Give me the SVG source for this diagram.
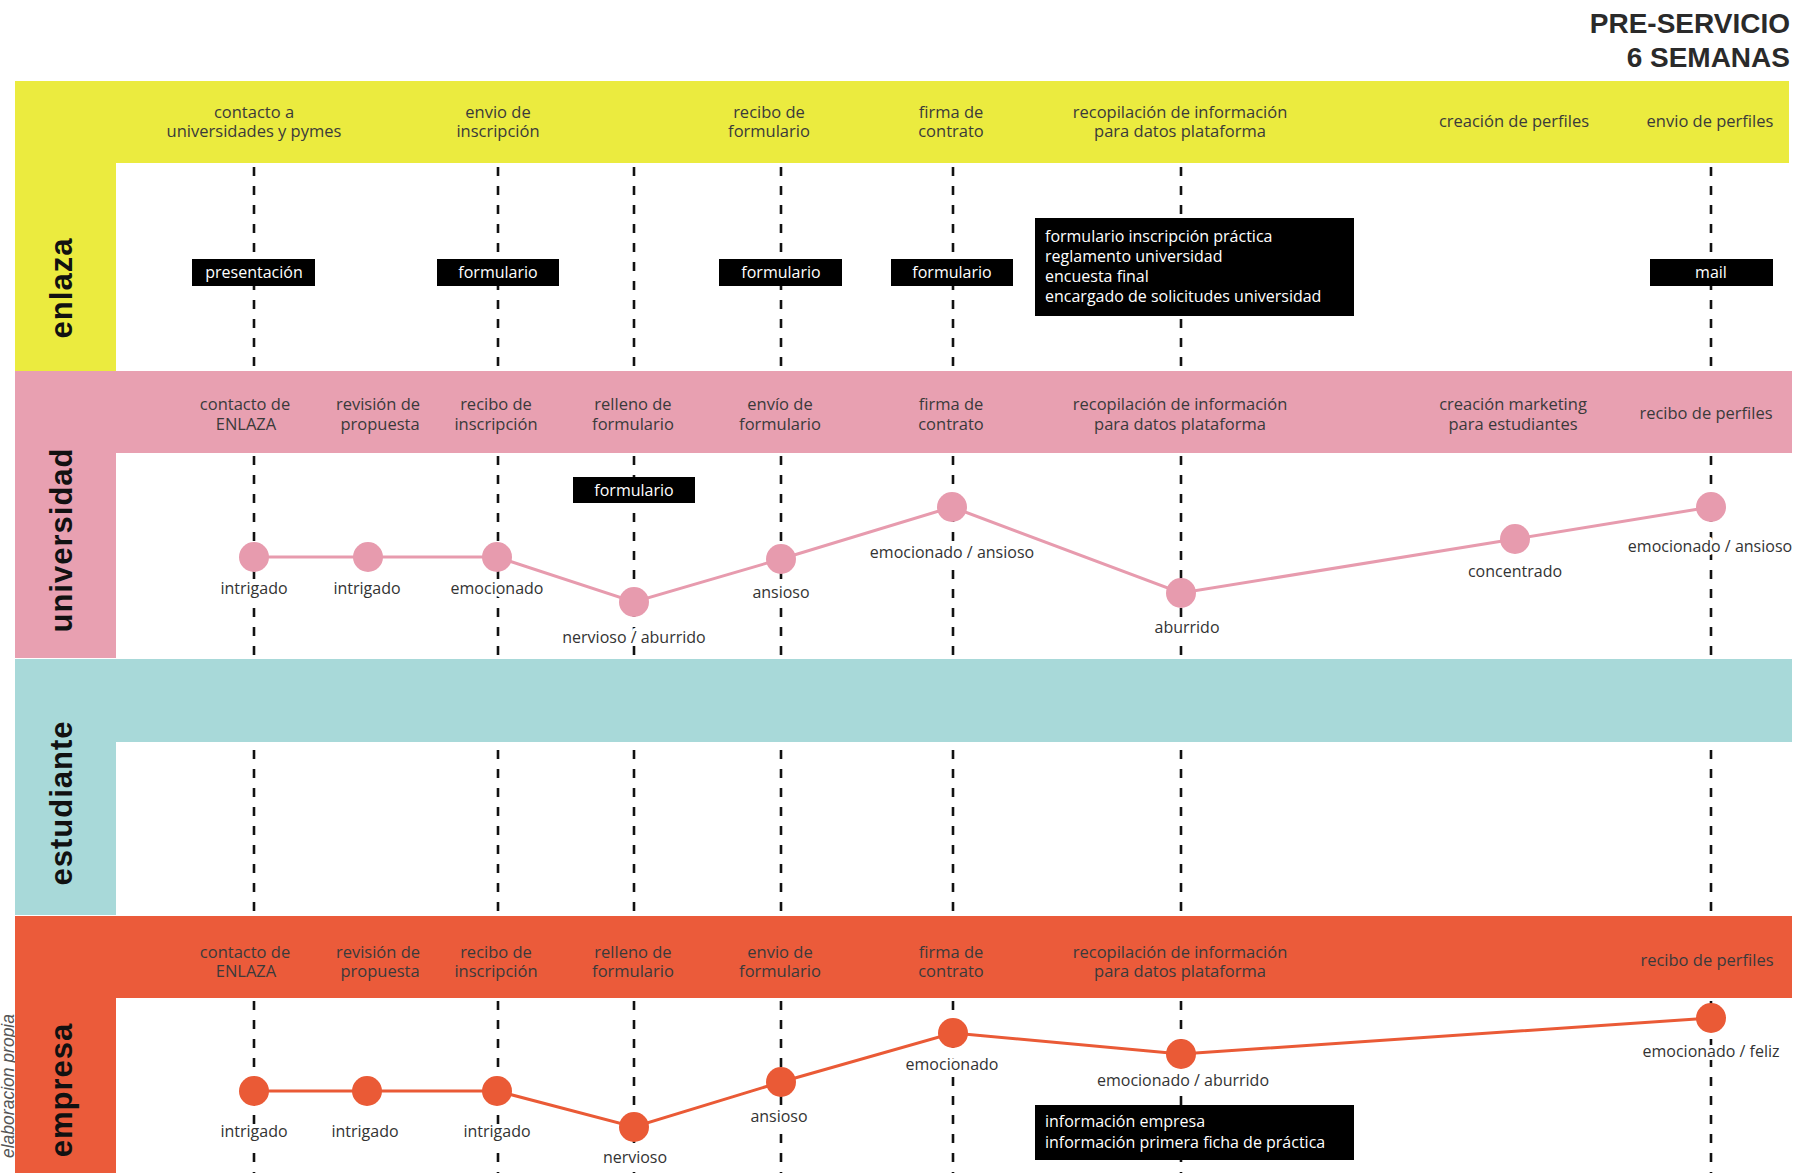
<svg xmlns="http://www.w3.org/2000/svg" width="1814" height="1173" viewBox="0 0 1814 1173">
<defs>
<style>
.lane{font-family:"Liberation Sans",Arial,sans-serif;font-weight:bold;font-size:31px;fill:#111;letter-spacing:1px}
.hd{font-family:"Open Sans","Liberation Sans",sans-serif;font-size:16.5px;fill:#3a3a3a;text-anchor:middle}
.mood{font-family:"Open Sans","Liberation Sans",sans-serif;font-size:16px;fill:#333;text-anchor:middle;stroke:#fff;stroke-width:6px;paint-order:stroke;stroke-linejoin:round}
.tag rect{fill:#000}
.tag text{font-family:"Open Sans","Liberation Sans",sans-serif;font-size:16px;fill:#fff;text-anchor:middle}
.box text{font-family:"Open Sans","Liberation Sans",sans-serif;font-size:16px;fill:#fff}
.dash{stroke:#111;stroke-width:2.6;stroke-dasharray:9 10;fill:none}
.pinkline{stroke:#e79bae;stroke-width:3;fill:none}
.orangeline{stroke:#ea5a36;stroke-width:3;fill:none}
.pc{fill:#e79bae}
.oc{fill:#ea5a36}
.title{font-family:"Liberation Sans",Arial,sans-serif;font-weight:bold;font-size:28px;fill:#2a2a2a;text-anchor:end}
</style>
</defs>
<rect width="1814" height="1173" fill="#fff"/>

<g id="title">
<text class="title" x="1790" y="33">PRE-SERVICIO</text>
<text class="title" x="1790" y="67">6 SEMANAS</text>
</g>

<text x="14" y="1158" transform="rotate(-90 14 1158)" font-family="Liberation Sans, Arial, sans-serif" font-style="italic" font-size="17.5" fill="#555">elaboracion propia</text>

<!-- lanes backgrounds -->
<g id="lane-enlaza">
<rect x="15" y="81" width="1774" height="82" fill="#ebeb3f"/>
<rect x="15" y="81" width="101" height="290" fill="#ebeb3f"/>
<text class="lane" x="72" y="288" text-anchor="middle" transform="rotate(-90 72 288)">enlaza</text>
</g>
<g id="lane-universidad">
<rect x="15" y="371" width="1777" height="82" fill="#e8a0b1"/>
<rect x="15" y="371" width="101" height="287" fill="#e8a0b1"/>
<text class="lane" x="72" y="540" text-anchor="middle" transform="rotate(-90 72 540)">universidad</text>
</g>
<g id="lane-estudiante">
<rect x="15" y="659" width="1777" height="83" fill="#a8d9d9"/>
<rect x="15" y="659" width="101" height="256" fill="#a8d9d9"/>
<text class="lane" x="72" y="803" text-anchor="middle" transform="rotate(-90 72 803)">estudiante</text>
</g>
<g id="lane-empresa">
<rect x="15" y="916" width="1777" height="82" fill="#eb5b3a"/>
<rect x="15" y="916" width="101" height="257" fill="#eb5b3a"/>
<text class="lane" x="72" y="1090" text-anchor="middle" transform="rotate(-90 72 1090)">empresa</text>
</g>

<!-- header labels -->
<g id="headers-enlaza">
<text class="hd" y="118"><tspan x="254">contacto a</tspan><tspan x="254" dy="19">universidades y pymes</tspan></text>
<text class="hd" y="118"><tspan x="498">envio de</tspan><tspan x="498" dy="19">inscripción</tspan></text>
<text class="hd" y="118"><tspan x="769">recibo de</tspan><tspan x="769" dy="19">formulario</tspan></text>
<text class="hd" y="118"><tspan x="951">firma de</tspan><tspan x="951" dy="19">contrato</tspan></text>
<text class="hd" y="118"><tspan x="1180">recopilación de información</tspan><tspan x="1180" dy="19">para datos plataforma</tspan></text>
<text class="hd" x="1514" y="127">creación de perfiles</text>
<text class="hd" x="1710" y="127">envio de perfiles</text>
</g>
<g id="headers-universidad">
<text class="hd" y="410"><tspan x="245">contacto de</tspan><tspan x="246" dy="20">ENLAZA</tspan></text>
<text class="hd" y="410"><tspan x="378">revisión de</tspan><tspan x="380" dy="20">propuesta</tspan></text>
<text class="hd" y="410"><tspan x="496">recibo de</tspan><tspan x="496" dy="20">inscripción</tspan></text>
<text class="hd" y="410"><tspan x="633">relleno de</tspan><tspan x="633" dy="20">formulario</tspan></text>
<text class="hd" y="410"><tspan x="780">envío de</tspan><tspan x="780" dy="20">formulario</tspan></text>
<text class="hd" y="410"><tspan x="951">firma de</tspan><tspan x="951" dy="20">contrato</tspan></text>
<text class="hd" y="410"><tspan x="1180">recopilación de información</tspan><tspan x="1180" dy="20">para datos plataforma</tspan></text>
<text class="hd" y="410"><tspan x="1513">creación marketing</tspan><tspan x="1513" dy="20">para estudiantes</tspan></text>
<text class="hd" x="1706" y="419">recibo de perfiles</text>
</g>
<g id="headers-empresa">
<text class="hd" y="958"><tspan x="245">contacto de</tspan><tspan x="246" dy="19">ENLAZA</tspan></text>
<text class="hd" y="958"><tspan x="378">revisión de</tspan><tspan x="380" dy="19">propuesta</tspan></text>
<text class="hd" y="958"><tspan x="496">recibo de</tspan><tspan x="496" dy="19">inscripción</tspan></text>
<text class="hd" y="958"><tspan x="633">relleno de</tspan><tspan x="633" dy="19">formulario</tspan></text>
<text class="hd" y="958"><tspan x="780">envio de</tspan><tspan x="780" dy="19">formulario</tspan></text>
<text class="hd" y="958"><tspan x="951">firma de</tspan><tspan x="951" dy="19">contrato</tspan></text>
<text class="hd" y="958"><tspan x="1180">recopilación de información</tspan><tspan x="1180" dy="19">para datos plataforma</tspan></text>
<text class="hd" x="1707" y="966">recibo de perfiles</text>
</g>

<!-- connectors -->
<g id="connectors">
<g id="dashes">
<path class="dash" d="M254 167V370M498 167V370M634 167V370M781 167V370M953 167V370M1181 167V370M1711 167V370"/>
<path class="dash" d="M254 456V658M498 456V658M634 456V658M781 456V658M953 456V658M1181 456V658M1711 456V658"/>
<path class="dash" d="M254 750V914M498 750V914M634 750V914M781 750V914M953 750V914M1181 750V914M1711 750V914"/>
<path class="dash" d="M254 1001V1173M498 1001V1173M634 1001V1173M781 1001V1173M953 1001V1173M1181 1001V1173M1711 1001V1173"/>
</g>
<polyline id="curve-universidad" class="pinkline" points="254,557 368,557 497,557 634,602 781,559 952,507 1181,593 1515,539 1711,507"/>
<polyline id="curve-empresa" class="orangeline" points="254,1091 367,1091 497,1091 634,1127 781,1082 953,1033 1181,1054 1711,1018"/>
</g>

<!-- enlaza tags -->
<g id="tag-presentacion" class="tag"><rect x="192" y="259" width="123" height="27"/><text x="254" y="278">presentación</text></g>
<g id="tag-formulario-1" class="tag"><rect x="437" y="259" width="122" height="27"/><text x="498" y="278">formulario</text></g>
<g id="tag-formulario-2" class="tag"><rect x="719" y="259" width="123" height="27"/><text x="781" y="278">formulario</text></g>
<g id="tag-formulario-3" class="tag"><rect x="891" y="259" width="122" height="27"/><text x="952" y="278">formulario</text></g>
<g id="tag-mail" class="tag"><rect x="1650" y="259" width="123" height="27"/><text x="1711" y="278">mail</text></g>
<g id="box-enlaza" class="box">
<rect x="1035" y="218" width="319" height="98" fill="#000"/>
<text x="1045" y="242"><tspan x="1045">formulario inscripción práctica</tspan><tspan x="1045" dy="20">reglamento universidad</tspan><tspan x="1045" dy="20">encuesta final</tspan><tspan x="1045" dy="20">encargado de solicitudes universidad</tspan></text>
</g>

<!-- universidad -->
<g id="tag-formulario-univ" class="tag"><rect x="573" y="477" width="122" height="26"/><text x="634" y="496">formulario</text></g>
<g id="u1"><circle class="pc" cx="254" cy="557" r="15"/><text class="mood" x="254" y="594">intrigado</text></g>
<g id="u2"><circle class="pc" cx="368" cy="557" r="15"/><text class="mood" x="367" y="594">intrigado</text></g>
<g id="u3"><circle class="pc" cx="497" cy="557" r="15"/><text class="mood" x="497" y="594">emocionado</text></g>
<g id="u4"><circle class="pc" cx="634" cy="602" r="15"/><text class="mood" x="634" y="643">nervioso / aburrido</text></g>
<g id="u5"><circle class="pc" cx="781" cy="559" r="15"/><text class="mood" x="781" y="598">ansioso</text></g>
<g id="u6"><circle class="pc" cx="952" cy="507" r="15"/><text class="mood" x="952" y="558">emocionado / ansioso</text></g>
<g id="u7"><circle class="pc" cx="1181" cy="593" r="15"/><text class="mood" x="1187" y="633">aburrido</text></g>
<g id="u8"><circle class="pc" cx="1515" cy="539" r="15"/><text class="mood" x="1515" y="577">concentrado</text></g>
<g id="u9"><circle class="pc" cx="1711" cy="507" r="15"/><text class="mood" x="1710" y="552">emocionado / ansioso</text></g>

<!-- empresa -->
<g id="e1"><circle class="oc" cx="254" cy="1091" r="15"/><text class="mood" x="254" y="1137">intrigado</text></g>
<g id="e2"><circle class="oc" cx="367" cy="1091" r="15"/><text class="mood" x="365" y="1137">intrigado</text></g>
<g id="e3"><circle class="oc" cx="497" cy="1091" r="15"/><text class="mood" x="497" y="1137">intrigado</text></g>
<g id="e4"><circle class="oc" cx="634" cy="1127" r="15"/><text class="mood" x="635" y="1163">nervioso</text></g>
<g id="e5"><circle class="oc" cx="781" cy="1082" r="15"/><text class="mood" x="779" y="1122">ansioso</text></g>
<g id="e6"><circle class="oc" cx="953" cy="1033" r="15"/><text class="mood" x="952" y="1070">emocionado</text></g>
<g id="e7"><circle class="oc" cx="1181" cy="1054" r="15"/><text class="mood" x="1183" y="1086">emocionado / aburrido</text></g>
<g id="e8"><circle class="oc" cx="1711" cy="1018" r="15"/><text class="mood" x="1711" y="1057">emocionado / feliz</text></g>
<g id="box-empresa" class="box">
<rect x="1035" y="1105" width="319" height="55" fill="#000"/>
<text x="1045" y="1127"><tspan x="1045">información empresa</tspan><tspan x="1045" dy="21">información primera ficha de práctica</tspan></text>
</g>
</svg>
